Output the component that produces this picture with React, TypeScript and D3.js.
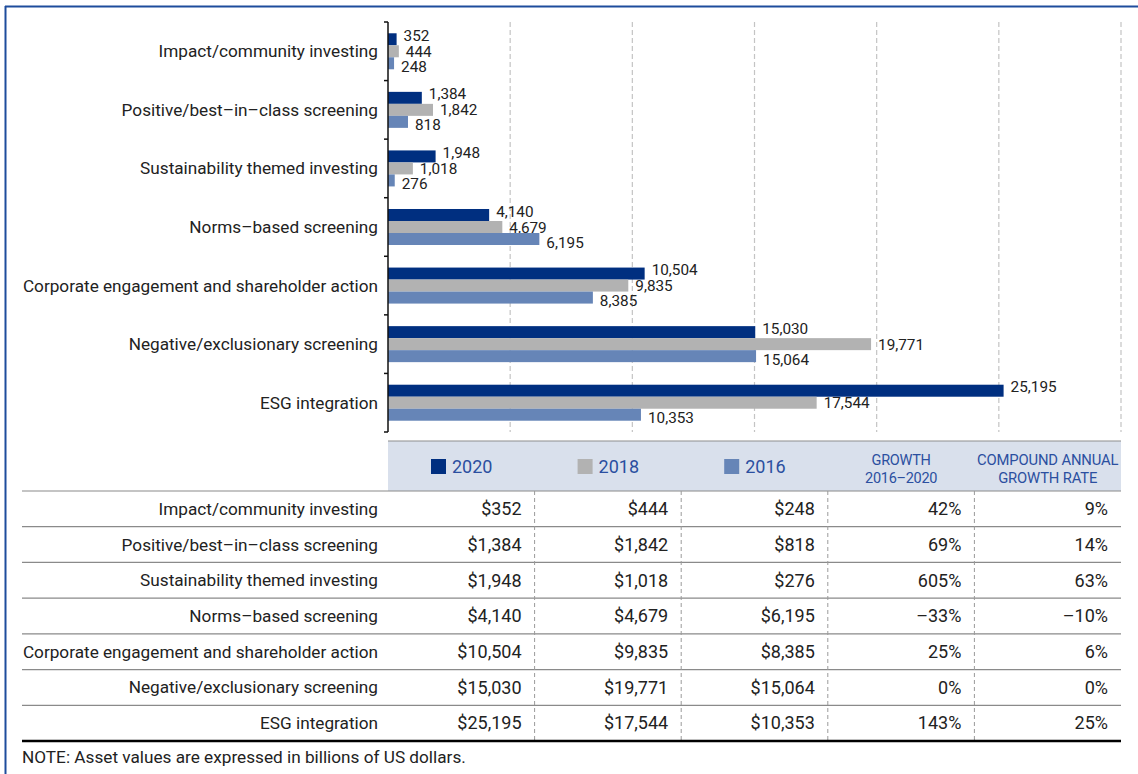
import React from "react";
import * as d3 from "d3";

const categories = [
  "Impact/community investing",
  "Positive/best–in–class screening",
  "Sustainability themed investing",
  "Norms–based screening",
  "Corporate engagement and shareholder action",
  "Negative/exclusionary screening",
  "ESG integration",
];
const years = ["2020", "2018", "2016"];
const values2020 = [352, 1384, 1948, 4140, 10504, 15030, 25195];
const values2018 = [444, 1842, 1018, 4679, 9835, 19771, 17544];
const values2016 = [248, 818, 276, 6195, 8385, 15064, 10353];
const growth = ["42%", "69%", "605%", "–33%", "25%", "0%", "143%"];
const cagr = ["9%", "14%", "63%", "–10%", "6%", "0%", "25%"];
const xTicks = [5000, 10000, 15000, 20000, 25000, 30000];

const colors: Record<string, string> = { "2020": "#002f80", "2018": "#b2b2b2", "2016": "#6685b7" };
const labelDy: Record<string, number> = { "2020": -4, "2018": 0, "2016": 3 };
const FONT = "Roboto, 'Liberation Sans', sans-serif";

export default function App() {
  const W = 1138, H = 774;
  const x = d3.scaleLinear().domain([0, 30000]).range([388, 1121]);
  const y = d3.scaleBand().domain(categories).range([22, 432]).padding(0);
  const sub = d3.scaleBand().domain(years).range([0, y.bandwidth()]).paddingInner(0).paddingOuter(0.94);
  const series: Record<string, number[]> = { "2020": values2020, "2018": values2018, "2016": values2016 };
  const fmt = d3.format(",");

  const colEdges = [388, 534.6, 681.2, 827.8, 974.4, 1121];
  const headTop = 441, headBot = 491, tableBot = 741;
  const rowH = (tableBot - headBot) / categories.length;
  const tableCols = [values2020.map((v) => "$" + fmt(v)), values2018.map((v) => "$" + fmt(v)), values2016.map((v) => "$" + fmt(v)), growth, cagr];

  return (
    <svg width={W} height={H} style={{ position: "absolute", left: 0, top: 0, fontFamily: FONT }}>
      <rect x={0} y={0} width={W} height={H} fill="#fff" />
      {/* border */}
      <line x1={5.5} y1={6} x2={5.5} y2={H} stroke="#1e4c9c" strokeWidth={2} />
      <line x1={5} y1={6.5} x2={W} y2={6.5} stroke="#1e4c9c" strokeWidth={2} />

      {/* gridlines */}
      {xTicks.map((t) => (
        <line key={t} x1={x(t)} x2={x(t)} y1={22} y2={432} stroke="#c4c4c4" strokeWidth={1.2} strokeDasharray="5,3" />
      ))}

      {/* bars */}
      {categories.map((c, i) => (
        <g key={c}>
          {years.map((yr) => {
            const v = series[yr][i];
            const by = (y(c) as number) + (sub(yr) as number);
            return (
              <g key={yr}>
                <rect x={x(0)} y={by} width={x(v) - x(0)} height={sub.bandwidth()} fill={colors[yr]} />
                <text x={x(v) + 7} y={by + sub.bandwidth() / 2 + labelDy[yr]} dy="0.36em" fontSize={15.3} fill="#222">
                  {fmt(v)}
                </text>
              </g>
            );
          })}
          <text x={378} y={(y(c) as number) + y.bandwidth() / 2} dy="0.35em" textAnchor="end" fontSize={17.2} fill="#222">
            {c}
          </text>
        </g>
      ))}

      {/* axis */}
      <line x1={388} x2={388} y1={22} y2={432} stroke="#111" strokeWidth={1.5} />
      {[...categories.map((c) => y(c) as number), 432].map((t, i) => (
        <line key={i} x1={384} x2={388} y1={t} y2={t} stroke="#111" strokeWidth={1.5} />
      ))}

      {/* table header */}
      <rect x={388} y={headTop} width={1121 - 388} height={headBot - headTop} fill="#d9e0ec" />
      <line x1={388} x2={1121} y1={headTop} y2={headTop} stroke="#8d8d8d" strokeWidth={1.2} />
      {years.map((yr, j) => (
        <g key={yr}>
          <rect x={colEdges[j] + 43} y={459} width={15} height={15} fill={colors[yr]} />
          <text x={colEdges[j] + 64} y={473} fontSize={18} fill="#2b4fa0">{yr}</text>
        </g>
      ))}
      <text x={(colEdges[3] + colEdges[4]) / 2} y={465} textAnchor="middle" fontSize={14.5} fill="#2b4fa0" letterSpacing={-0.3}>GROWTH</text>
      <text x={(colEdges[3] + colEdges[4]) / 2} y={483} textAnchor="middle" fontSize={14.5} fill="#2b4fa0" letterSpacing={-0.3}>2016–2020</text>
      <text x={(colEdges[4] + colEdges[5]) / 2} y={465} textAnchor="middle" fontSize={14.8} fill="#2b4fa0" letterSpacing={-0.15}>COMPOUND ANNUAL</text>
      <text x={(colEdges[4] + colEdges[5]) / 2} y={483} textAnchor="middle" fontSize={14.8} fill="#2b4fa0" letterSpacing={-0.15}>GROWTH RATE</text>

      {/* table body */}
      {categories.map((c, i) => {
        const top = headBot + i * rowH;
        return (
          <g key={c}>
            <text x={378} y={top + rowH / 2} dy="0.35em" textAnchor="end" fontSize={17.2} fill="#222">{c}</text>
            {tableCols.map((col, j) => (
              <text key={j} x={colEdges[j + 1] - 13} y={top + rowH / 2} dy="0.35em" textAnchor="end" fontSize={18} fill="#222">
                {col[i]}
              </text>
            ))}
          </g>
        );
      })}
      {d3.range(categories.length).map((i) => (
        <line key={i} x1={22} x2={1121} y1={headBot + i * rowH} y2={headBot + i * rowH} stroke="#8a8a8a" strokeWidth={1.2} />
      ))}
      {colEdges.slice(1, 5).map((cx, j) => (
        <line key={j} x1={cx} x2={cx} y1={headBot} y2={tableBot} stroke="#9a9a9a" strokeWidth={1} strokeDasharray="4,3" />
      ))}
      <line x1={22} x2={1121} y1={tableBot} y2={tableBot} stroke="#000" strokeWidth={2.5} />

      <text x={22} y={763} fontSize={17.2} fill="#222">NOTE: Asset values are expressed in billions of US dollars.</text>
    </svg>
  );
}
